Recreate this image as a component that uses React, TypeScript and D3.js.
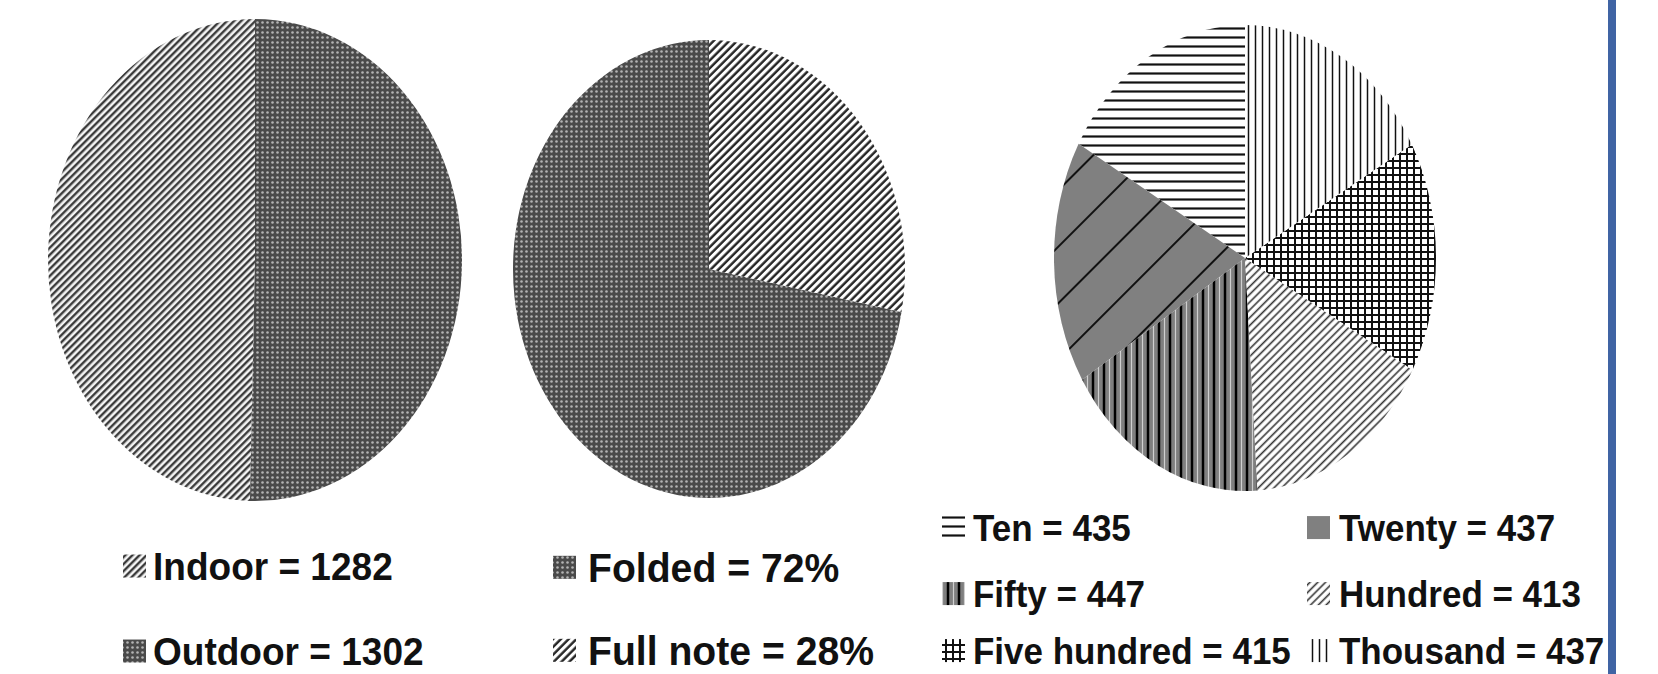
import * as d3 from 'd3'

const W = 1658
const H = 674

// data
const roomLabels = ['Indoor', 'Outdoor']
const roomValues = [1282, 1302]
const noteLabels = ['Folded', 'Full note']
const notePercents = [72, 28]
const noteSuffix = '%'
const denomLabels = ['Ten', 'Twenty', 'Fifty', 'Hundred', 'Five hundred', 'Thousand']
const denomValues = [435, 437, 447, 413, 415, 437]

// fills (pattern ids), same order as the data
const roomFills = ['diag', 'dots']
const noteFills = ['dots', 'diag2']
const denomFills = ['hlines', 'sparse', 'vthick', 'diagThin', 'grid', 'vthin']
const denomMarks = ['hlines', 'plainGray', 'vthick', 'diagThin', 'grid', 'vthin']

// counter-clockwise from 12 o'clock, so the last item sits right of 12
const pieGen = d3
  .pie<number>()
  .sort(null)
  .value((d) => d)
  .startAngle(2 * Math.PI)
  .endAngle(0)

function slicePath(a: number, b: number, rx: number, ry: number) {
  const s = Math.min(a, b)
  const e = Math.max(a, b)
  const p = (t: number) => [rx * Math.sin(t), -ry * Math.cos(t)]
  const [x0, y0] = p(s)
  const [x1, y1] = p(e)
  return `M0,0L${x0},${y0}A${rx},${ry},0,${e - s > Math.PI ? 1 : 0},1,${x1},${y1}Z`
}

function Pie({ values, fills, cx, cy, rx, ry }: any) {
  const arcs = pieGen(values)
  return (
    <g transform={`translate(${cx},${cy})`}>
      {arcs.map((a, i) => (
        <path key={i} d={slicePath(a.startAngle, a.endAngle, rx, ry)} fill={`url(#${fills[i]})`} />
      ))}
    </g>
  )
}

function LegendItem({ x, mx, y, text, fill, fontSize, sx }: any) {
  const cap = fontSize * 0.716
  return (
    <g>
      <rect x={mx} y={y - cap / 2 - 11.5} width={23} height={23} fill={`url(#${fill})`} />
      <text
        transform={`translate(${x},${y}) scale(${sx},1)`}
        fontFamily="'Liberation Sans', Arial, sans-serif"
        fontWeight="bold"
        fontSize={fontSize}
        fill="#111"
      >
        {text}
      </text>
    </g>
  )
}

export default function App() {
  const leg1Rows = [580, 665]
  const leg2Rows = [582, 665]
  const leg3Rows = [541, 607, 664]
  const leg3Text = [973, 1339]
  const leg3Mark = [942, 1307]

  return (
    <svg
      width={W}
      height={H}
      viewBox={`0 0 ${W} ${H}`}
      style={{ position: 'absolute', left: 0, top: 0, display: 'block', background: '#fff' }}
    >
      <defs>
        <pattern id="diag" width="5" height="5" patternUnits="userSpaceOnUse" patternTransform="rotate(45)">
          <rect width="5" height="5" fill="#f4f4f4" />
          <line x1="1.25" y1="0" x2="1.25" y2="5" stroke="#333" strokeWidth="2.3" />
        </pattern>
        <pattern id="diag2" width="5.5" height="5.5" patternUnits="userSpaceOnUse" patternTransform="rotate(45)">
          <rect width="5.5" height="5.5" fill="#fff" />
          <line x1="1.5" y1="0" x2="1.5" y2="5.5" stroke="#222" strokeWidth="2.4" />
        </pattern>
        <pattern id="dots" width="5" height="5" patternUnits="userSpaceOnUse">
          <rect width="5" height="5" fill="#4a4a4a" />
          <circle cx="2.5" cy="2.5" r="1.3" fill="#b4b4b4" />
        </pattern>
        <pattern id="vthin" width="7" height="7" patternUnits="userSpaceOnUse">
          <rect width="7" height="7" fill="#fff" />
          <line x1="3.5" y1="0" x2="3.5" y2="7" stroke="#111" strokeWidth="1.5" />
        </pattern>
        <pattern id="grid" width="7" height="7" patternUnits="userSpaceOnUse">
          <rect width="7" height="7" fill="#fff" />
          <line x1="1" y1="0" x2="1" y2="7" stroke="#111" strokeWidth="2" />
          <line x1="0" y1="1" x2="7" y2="1" stroke="#111" strokeWidth="2" />
        </pattern>
        <pattern id="diagThin" width="5.5" height="5.5" patternUnits="userSpaceOnUse" patternTransform="rotate(45)">
          <rect width="5.5" height="5.5" fill="#fff" />
          <line x1="1.5" y1="0" x2="1.5" y2="5.5" stroke="#333" strokeWidth="1.6" />
        </pattern>
        <pattern id="vthick" width="11" height="11" patternUnits="userSpaceOnUse">
          <rect width="11" height="11" fill="#7f7f7f" />
          <line x1="2" y1="0" x2="2" y2="11" stroke="#000" strokeWidth="2.5" />
          <line x1="7.5" y1="0" x2="7.5" y2="11" stroke="#cfcfcf" strokeWidth="1.2" />
        </pattern>
        <pattern id="sparse" width="40" height="40" patternUnits="userSpaceOnUse" patternTransform="rotate(45)">
          <rect width="40" height="40" fill="#808080" />
          <line x1="20" y1="0" x2="20" y2="40" stroke="#111" strokeWidth="2" />
        </pattern>
        <pattern id="plainGray" width="10" height="10" patternUnits="userSpaceOnUse">
          <rect width="10" height="10" fill="#808080" />
        </pattern>
        <pattern id="hlines" width="9" height="9" patternUnits="userSpaceOnUse">
          <rect width="9" height="9" fill="#fff" />
          <line x1="0" y1="4.5" x2="9" y2="4.5" stroke="#111" strokeWidth="2.2" />
        </pattern>
      </defs>

      <rect width={W} height={H} fill="#fff" />

      <Pie values={roomValues} fills={roomFills} cx={255} cy={260} rx={207} ry={241} />
      <Pie values={notePercents} fills={noteFills} cx={709} cy={269} rx={196} ry={229} />
      <Pie values={denomValues} fills={denomFills} cx={1245} cy={258} rx={191} ry={233} />

      {roomLabels.map((l, i) => (
        <LegendItem
          key={l}
          x={153}
          mx={123}
          y={leg1Rows[i]}
          text={`${l} = ${roomValues[i]}`}
          fill={roomFills[i]}
          fontSize={39}
          sx={0.95}
        />
      ))}

      {noteLabels.map((l, i) => (
        <LegendItem
          key={l}
          x={588}
          mx={553}
          y={leg2Rows[i]}
          text={`${l} = ${notePercents[i]}${noteSuffix}`}
          fill={noteFills[i]}
          fontSize={41}
          sx={0.955}
        />
      ))}

      {denomLabels.map((l, i) => (
        <LegendItem
          key={l}
          x={leg3Text[i % 2]}
          mx={leg3Mark[i % 2]}
          y={leg3Rows[Math.floor(i / 2)]}
          text={`${l} = ${denomValues[i]}`}
          fill={denomMarks[i]}
          fontSize={37.5}
          sx={0.933}
        />
      ))}

      <rect x={1608} y={0} width={8} height={H} fill="#4064a4" />
    </svg>
  )
}
